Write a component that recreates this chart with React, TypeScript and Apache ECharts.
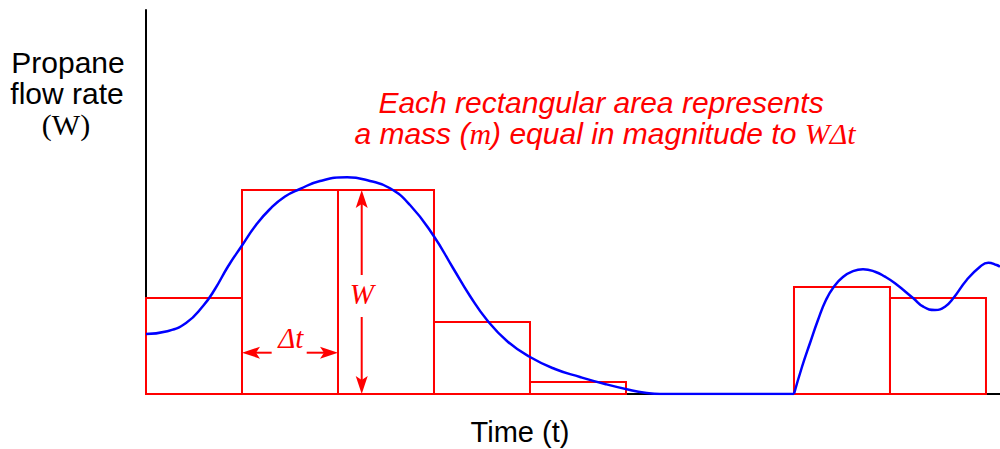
import { useEffect, useRef } from "react";
import * as echarts from "echarts";

// Time axis in units of Δt, flow axis in arbitrary units
const X_MAX = 8.896;
const Y_MAX = 384;

// Rectangles (each Δt wide, height W)
const blockStart = [0, 1, 2, 3, 4, 6.75, 7.75];
const blockEnd = [1, 2, 3, 4, 5, 7.75, 8.75];
const blockHeight = [96, 204, 204, 72, 12, 107, 96];

// Propane flow rate curve (two pieces)
const curveLeft: [number, number][] = [
  [0, 60], [0.208, 62.5], [0.417, 71], [0.594, 88], [0.719, 105], [0.854, 127.5],
  [1.0, 148.5], [1.146, 169], [1.292, 185], [1.448, 197.5], [1.604, 205],
  [1.813, 213], [2.094, 216.7], [2.333, 213], [2.542, 205.7], [2.75, 189],
  [2.99, 159], [3.198, 126], [3.375, 98], [3.552, 74], [3.76, 53], [4.0, 37],
  [4.26, 25], [4.521, 17], [4.781, 10], [5.042, 4], [5.198, 1.3], [5.354, 0],
  [6.75, 0],
];
const curveRight: [number, number][] = [
  [6.75, 0], [6.833, 27], [6.917, 51], [7.0, 74], [7.083, 94], [7.167, 107.5],
  [7.26, 117], [7.365, 122.8], [7.469, 124.7], [7.594, 122.3], [7.698, 117.3],
  [7.802, 110.7], [7.993, 95.7], [8.097, 87.3], [8.219, 84], [8.323, 87.3],
  [8.409, 95.7], [8.549, 114], [8.688, 127.3], [8.774, 131.3], [8.861, 129],
  [8.896, 127.3],
];

// Annotation arrows: [fromX, fromY, tipX, tipY]
const arrows: [number, number, number, number][] = [
  [1.309, 41.3, 1.0, 41.3],
  [1.674, 41.3, 2.0, 41.3],
  [2.247, 119, 2.247, 204],
  [2.247, 77, 2.247, 0],
];
const labelText = ["Δt", "W"];
const labelPos: [number, number][] = [
  [1.507, 56],
  [2.247, 100],
];

const SANS = '"Liberation Sans", Arial, sans-serif';
const SERIF = '"Liberation Serif", "Times New Roman", serif';
const RED = "#ff0000";
const BLUE = "#0000ff";
const FS = 30;

export default function App() {
  const ref = useRef<HTMLDivElement>(null);
  useEffect(() => {
    document.body.style.margin = "0";
    const chart = echarts.init(ref.current!, undefined, { renderer: "svg" });
    const blocks = blockStart.map((s, i) => [s, blockEnd[i], blockHeight[i]]);
    const axisCommon = {
      type: "value" as const,
      min: 0,
      axisLine: { show: true, lineStyle: { color: "#000", width: 2 } },
      axisTick: { show: false },
      axisLabel: { show: false },
      splitLine: { show: false },
    };
    const curveStyle = {
      type: "line" as const,
      smooth: 0.5,
      showSymbol: false,
      lineStyle: { color: BLUE, width: 2.5 },
      z: 4,
    };
    chart.setOption({
      animation: false,
      grid: { left: 146, right: 0, top: 10, bottom: 55 },
      xAxis: { ...axisCommon, max: X_MAX },
      yAxis: { ...axisCommon, max: Y_MAX },
      series: [
        {
          type: "custom",
          name: "blocks",
          data: blocks,
          encode: { x: [0, 1], y: 2 },
          z: 3,
          renderItem: (_p: any, api: any) => {
            const a = api.coord([api.value(0), api.value(2)]);
            const b = api.coord([api.value(1), 0]);
            return {
              type: "rect",
              shape: { x: a[0], y: a[1], width: b[0] - a[0], height: b[1] - a[1] },
              style: { fill: "none", stroke: RED, lineWidth: 2 },
            };
          },
        },
        {
          type: "custom",
          name: "arrows",
          data: arrows,
          encode: { x: [0, 2], y: [1, 3] },
          z: 3,
          renderItem: (_p: any, api: any) => {
            const a = api.coord([api.value(0), api.value(1)]);
            const b = api.coord([api.value(2), api.value(3)]);
            const dx = b[0] - a[0];
            const dy = b[1] - a[1];
            const len = Math.hypot(dx, dy) || 1;
            const ux = dx / len;
            const uy = dy / len;
            const nx = -uy;
            const ny = ux;
            const L = 18, HW = 6, N = 14;
            const bx = b[0] - ux * L, by = b[1] - uy * L;
            const mx = b[0] - ux * N, my = b[1] - uy * N;
            return {
              type: "group",
              children: [
                {
                  type: "line",
                  shape: { x1: a[0], y1: a[1], x2: mx, y2: my },
                  style: { stroke: RED, lineWidth: 2 },
                },
                {
                  type: "polygon",
                  shape: {
                    points: [
                      [b[0], b[1]],
                      [bx + nx * HW, by + ny * HW],
                      [mx, my],
                      [bx - nx * HW, by - ny * HW],
                    ],
                  },
                  style: { fill: RED },
                },
              ],
            };
          },
        },
        {
          type: "custom",
          name: "labels",
          data: labelPos,
          encode: { x: 0, y: 1 },
          z: 5,
          renderItem: (p: any, api: any) => {
            const c = api.coord([api.value(0), api.value(1)]);
            return {
              type: "text",
              x: c[0],
              y: c[1],
              style: {
                text: labelText[p.dataIndex],
                fill: RED,
                fontStyle: "italic",
                fontSize: FS - 1,
                fontFamily: SERIF,
                align: "center",
                verticalAlign: "middle",
              },
            };
          },
        },
        { ...curveStyle, name: "flow-1", data: curveLeft },
        { ...curveStyle, name: "flow-2", data: curveRight },
      ],
      graphic: [
        {
          type: "text", x: 68, y: 62,
          style: { text: "Propane", fontSize: FS, fontFamily: SANS, fill: "#000", align: "center", verticalAlign: "middle" },
        },
        {
          type: "text", x: 67, y: 93,
          style: { text: "flow rate", fontSize: FS, fontFamily: SANS, fill: "#000", align: "center", verticalAlign: "middle" },
        },
        {
          type: "text", x: 66, y: 124,
          style: { text: "(W)", fontSize: FS, fontFamily: SERIF, fill: "#000", align: "center", verticalAlign: "middle" },
        },
        {
          type: "text", x: 520, y: 432,
          style: { text: "Time (t)", fontSize: FS - 1, fontFamily: SANS, fill: "#000", align: "center", verticalAlign: "middle" },
        },
        {
          type: "text", x: 601, y: 102,
          style: { text: "Each rectangular area represents", fontSize: FS, fontStyle: "italic", fontFamily: SANS, fill: RED, align: "center", verticalAlign: "middle" },
        },
        {
          type: "text", x: 605, y: 133,
          style: {
            text: "{a|a mass (}{b|m}{a|) equal in magnitude to }{b|WΔt}",
            align: "center",
            verticalAlign: "middle",
            rich: {
              a: { fontSize: FS, fontStyle: "italic", fontFamily: SANS, fill: RED },
              b: { fontSize: FS, fontStyle: "italic", fontFamily: SERIF, fill: RED },
            },
          },
        },
      ],
    });
    return () => chart.dispose();
  }, []);
  return <div ref={ref} style={{ width: 1000, height: 449 }} />;
}
